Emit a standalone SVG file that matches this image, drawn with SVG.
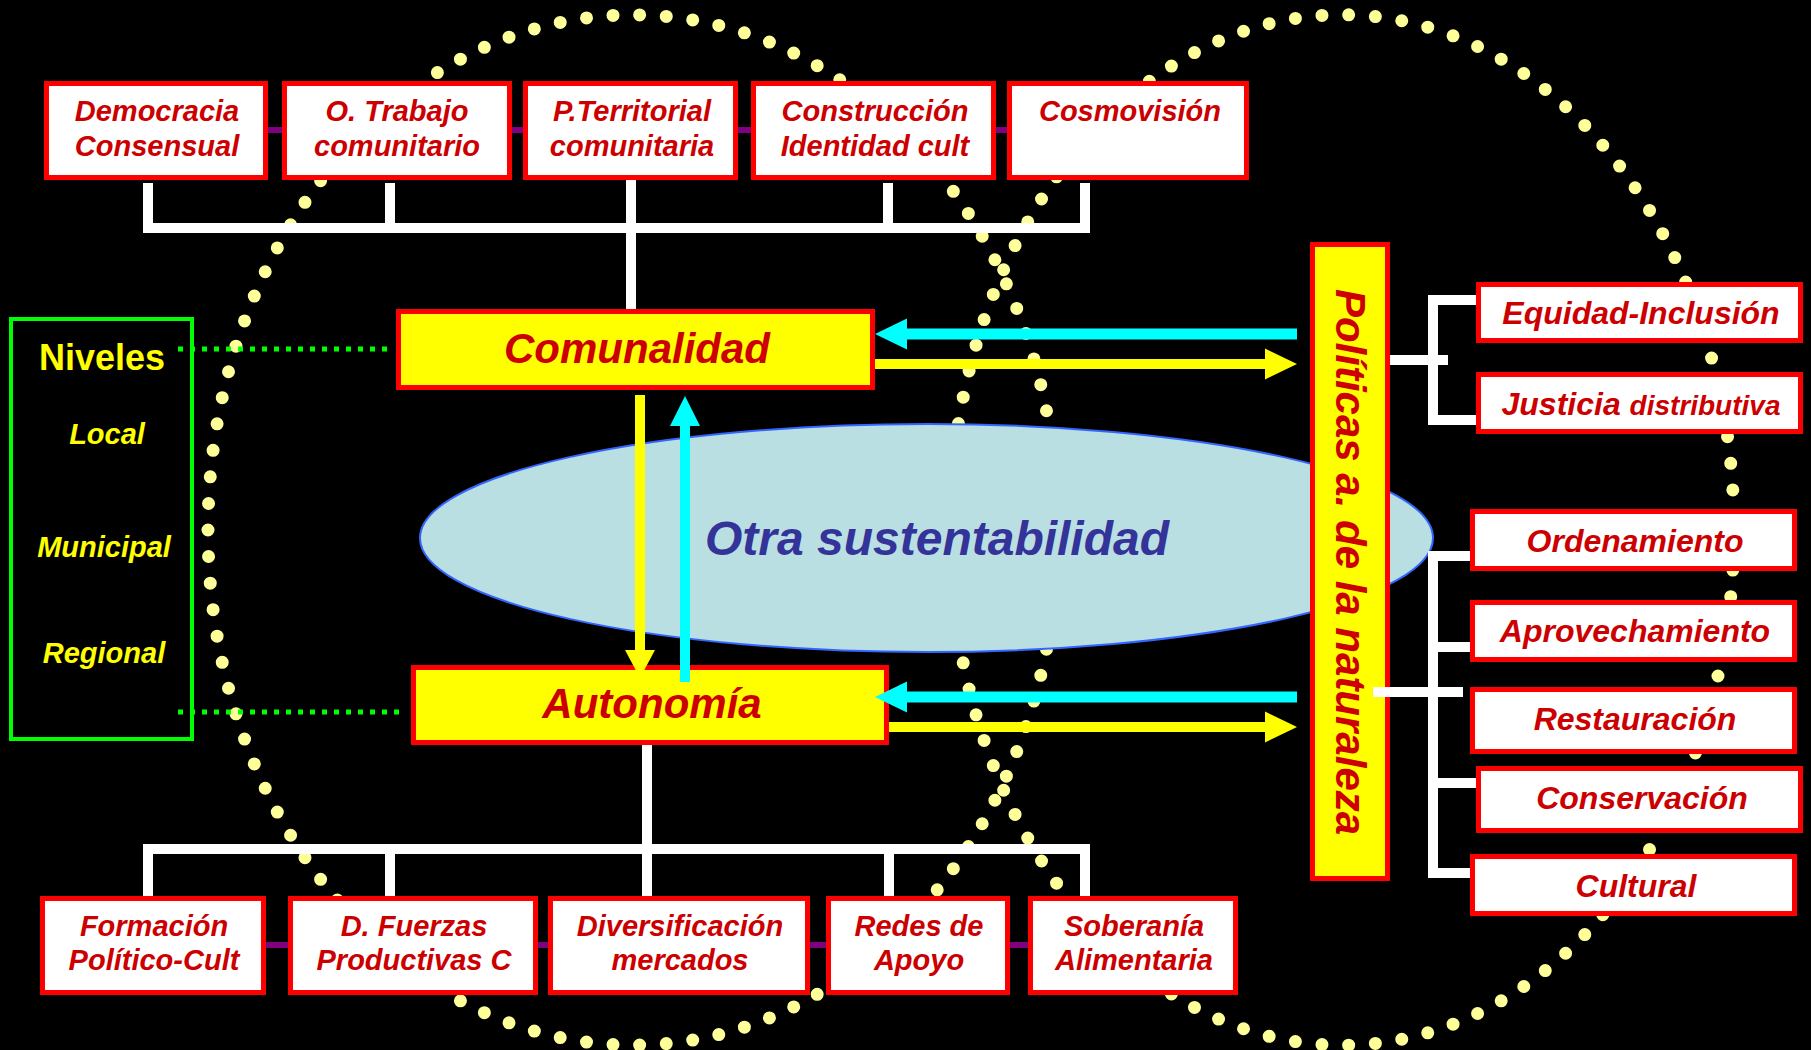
<svg xmlns="http://www.w3.org/2000/svg" width="1811" height="1050" viewBox="0 0 1811 1050">
<defs>
<style>
.wbox{fill:#fff;stroke:#f00;stroke-width:5}
.ybox{fill:#ff0;stroke:#f00;stroke-width:5}
.t{font-family:"Liberation Sans",Arial,sans-serif;font-weight:bold;font-style:italic;fill:#c00;text-anchor:middle}
.s29{font-size:29px}
.s32{font-size:32px}
.s42{font-size:42px}
.lv{font-family:"Liberation Sans",Arial,sans-serif;font-weight:bold;font-style:italic;fill:#ff0;text-anchor:middle;font-size:29px}
.dots{fill:none;stroke:#ffff99;stroke-width:13;stroke-linecap:round;stroke-dasharray:0 1}
.wl{fill:none;stroke:#fff;stroke-width:10;stroke-linejoin:miter}
.pl{stroke:#800080;stroke-width:6}
.gl{stroke:#00ff00;stroke-width:5;stroke-dasharray:5 7}
.cy{fill:#00ffff}
.ye{fill:#ffff00}
</style>
</defs>
<rect x="0" y="0" width="1811" height="1050" fill="#000"/>

<g id="dotted-circles">
<path class="dots" pathLength="111" d="M208,530 A425,515 0 1 1 1058,530 A425,515 0 1 1 208,530 Z"/>
<path class="dots" pathLength="107" d="M950,530 A392,515 0 1 1 1734,530 A392,515 0 1 1 950,530 Z"/>
</g>

<g id="otra-sustentabilidad">
<ellipse cx="926.5" cy="538" rx="506.5" ry="114" fill="#badfe2" stroke="#3366ff" stroke-width="2"/>
<text x="937" y="555" style="font-family:'Liberation Sans',Arial,sans-serif;font-weight:bold;font-style:italic;font-size:48px;fill:#333399;text-anchor:middle">Otra sustentabilidad</text>
</g>

<g id="niveles">
<rect x="11" y="319" width="181" height="420" fill="none" stroke="#00ff00" stroke-width="4"/>
<text x="102" y="370" style="font-family:'Liberation Sans',Arial,sans-serif;font-weight:bold;font-size:36px;fill:#ff0;text-anchor:middle">Niveles</text>
<text class="lv" x="107" y="444">Local</text>
<text class="lv" x="104" y="557">Municipal</text>
<text class="lv" x="104" y="663">Regional</text>
</g>

<g id="democracia"><rect class="wbox" x="46.5" y="83.5" width="219" height="94"/><text class="t s29" x="157" y="121">Democracia</text><text class="t s29" x="157" y="156">Consensual</text></g>
<g id="trabajo"><rect class="wbox" x="284.5" y="83.5" width="225" height="94"/><text class="t s29" x="397" y="121">O. Trabajo</text><text class="t s29" x="397" y="156">comunitario</text></g>
<g id="territorial"><rect class="wbox" x="525.5" y="83.5" width="210" height="94"/><text class="t s29" x="632" y="121">P.Territorial</text><text class="t s29" x="632" y="156">comunitaria</text></g>
<g id="construccion"><rect class="wbox" x="753.5" y="83.5" width="240" height="94"/><text class="t s29" x="875" y="121">Construcción</text><text class="t s29" x="875" y="156">Identidad cult</text></g>
<g id="cosmovision"><rect class="wbox" x="1009.5" y="83.5" width="237" height="94"/><text class="t s29" x="1130" y="121">Cosmovisión</text></g>

<g id="formacion"><rect class="wbox" x="42.5" y="898.5" width="221" height="94"/><text class="t s29" x="154" y="936">Formación</text><text class="t s29" x="154" y="970">Político-Cult</text></g>
<g id="fuerzas"><rect class="wbox" x="290.5" y="898.5" width="245" height="94"/><text class="t s29" x="414" y="936">D. Fuerzas</text><text class="t s29" x="414" y="970">Productivas C</text></g>
<g id="diversificacion"><rect class="wbox" x="550.5" y="898.5" width="257" height="94"/><text class="t s29" x="680" y="936">Diversificación</text><text class="t s29" x="680" y="970">mercados</text></g>
<g id="redes"><rect class="wbox" x="828.5" y="898.5" width="179" height="94"/><text class="t s29" x="919" y="936">Redes de</text><text class="t s29" x="919" y="970">Apoyo</text></g>
<g id="soberania"><rect class="wbox" x="1030.5" y="898.5" width="205" height="94"/><text class="t s29" x="1134" y="936">Soberanía</text><text class="t s29" x="1134" y="970">Alimentaria</text></g>

<g id="comunalidad"><rect class="ybox" x="398.5" y="311.5" width="474" height="76"/><text class="t s42" x="637" y="363">Comunalidad</text></g>
<g id="autonomia"><rect class="ybox" x="413.5" y="667.5" width="473" height="75"/><text class="t s42" x="652" y="718">Autonomía</text></g>

<g id="politicas"><rect class="ybox" x="1312.5" y="244.5" width="75" height="634"/><text class="t s42" transform="translate(1336,562) rotate(90)">Políticas a. de la naturaleza</text></g>

<g id="equidad"><rect class="wbox" x="1478.5" y="284.5" width="322" height="56"/><text class="t s32" x="1641" y="324">Equidad-Inclusión</text></g>
<g id="justicia"><rect class="wbox" x="1478.5" y="374.5" width="322" height="57"/><text class="t s32" x="1641" y="415">Justicia <tspan style="font-size:28px">distributiva</tspan></text></g>
<g id="ordenamiento"><rect class="wbox" x="1472.5" y="511.5" width="322" height="57"/><text class="t s32" x="1635" y="552">Ordenamiento</text></g>
<g id="aprovechamiento"><rect class="wbox" x="1472.5" y="602.5" width="322" height="57"/><text class="t s32" x="1635" y="642">Aprovechamiento</text></g>
<g id="restauracion"><rect class="wbox" x="1472.5" y="689.5" width="322" height="62"/><text class="t s32" x="1635" y="730">Restauración</text></g>
<g id="conservacion"><rect class="wbox" x="1478.5" y="768.5" width="322" height="62"/><text class="t s32" x="1642" y="809">Conservación</text></g>
<g id="cultural"><rect class="wbox" x="1472.5" y="856.5" width="322" height="57"/><text class="t s32" x="1636" y="897">Cultural</text></g>

<g id="connectors">
<path class="wl" d="M148,183 V228 H1085 V183"/>
<path class="wl" d="M390,183 V228 M888,183 V228 M631,180 V309"/>
<path class="wl" d="M148,896 V849 H1085 V896"/>
<path class="wl" d="M390,849 V896 M889,849 V896 M647,745 V896"/>
<path class="wl" d="M1476,300 H1433 V420 H1476 M1390,360 H1448"/>
<path class="wl" d="M1470,556 H1433 V873 H1470 M1433,647 H1470 M1433,783 H1476 M1373,692 H1463"/>
<path class="pl" d="M268,130 H282 M512,130 H523 M738,130 H751 M996,130 H1007"/>
<path class="pl" d="M266,945 H288 M538,945 H548 M810,945 H826 M1010,945 H1028"/>
<path class="gl" d="M178,349 H390"/>
<path class="gl" d="M178,712 H402"/>
<polygon class="cy" points="875,334 907,318.5 907,328.5 1297,328.5 1297,339.5 907,339.5 907,349.5"/>
<polygon class="ye" points="875,359 1265,359 1265,348.5 1297,364 1265,379.5 1265,369 875,369"/>
<polygon class="cy" points="875,697 907,681.5 907,691.5 1297,691.5 1297,702.5 907,702.5 907,712.5"/>
<polygon class="ye" points="889,722 1265,722 1265,711.5 1297,727 1265,742.5 1265,732 889,732"/>
<polygon class="ye" points="635,395 645,395 645,650 655,650 640,678 625,650 635,650"/>
<polygon class="cy" points="680,682 680,426 670,426 685,396 700,426 690,426 690,682"/>
</g>
</svg>
